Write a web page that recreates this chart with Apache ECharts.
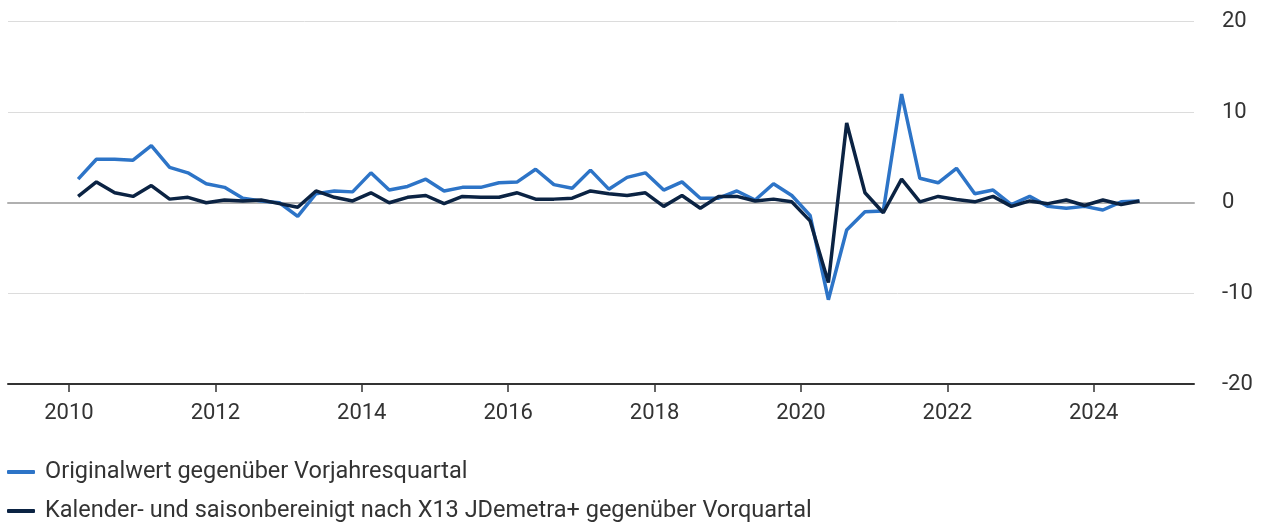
<!DOCTYPE html>
<html lang="de">
<head>
    <meta charset="UTF-8">
    <title>echarts</title>
    <script src="https://cdn.jsdelivr.net/npm/echarts@6/dist/echarts.min.js"></script>
    <style>
        html, body { margin: 0; padding: 0; background: #fff; }
    </style>
</head>
<body>
    <div id="charts1" style="width: 1268px;height:522px;"></div>
    <script type="text/javascript">
        // Quartale 2010 Q1 bis 2024 Q3
        var startYear = 2010;
        var quarterCount = 59;
        var yearTicks = [2010, 2012, 2014, 2016, 2018, 2020, 2022, 2024];

        var seriesNames = [
            'Originalwert gegenüber Vorjahresquartal',
            'Kalender- und saisonbereinigt nach X13 JDemetra+ gegenüber Vorquartal'
        ];

        var vorjahr = [
            2.6, 4.8, 4.8, 4.7, 6.3, 3.9, 3.3, 2.1, 1.7, 0.5, 0.2, 0.0,
            -1.5, 1.0, 1.3, 1.2, 3.3, 1.4, 1.8, 2.6, 1.3, 1.7, 1.7, 2.2,
            2.3, 3.7, 2.0, 1.6, 3.6, 1.5, 2.8, 3.3, 1.4, 2.3, 0.5, 0.5,
            1.3, 0.3, 2.1, 0.8, -1.4, -10.7, -3.0, -1.0, -0.9, 12.0, 2.7, 2.2,
            3.8, 1.0, 1.4, -0.2, 0.7, -0.4, -0.6, -0.4, -0.8, 0.1, 0.2
        ];

        var vorquartal = [
            0.7, 2.3, 1.1, 0.7, 1.9, 0.4, 0.6, 0.0, 0.3, 0.2, 0.3, -0.1,
            -0.5, 1.3, 0.6, 0.2, 1.1, 0.0, 0.6, 0.8, -0.1, 0.7, 0.6, 0.6,
            1.1, 0.4, 0.4, 0.5, 1.3, 1.0, 0.8, 1.1, -0.4, 0.8, -0.6, 0.7,
            0.7, 0.2, 0.4, 0.1, -2.0, -8.8, 8.8, 1.1, -1.1, 2.6, 0.1, 0.7,
            0.35, 0.1, 0.7, -0.4, 0.2, -0.1, 0.3, -0.3, 0.3, -0.2, 0.2
        ];

        // Quartalsmitte als x-Position
        var quarterPos = [];
        for (var i = 0; i < quarterCount; i++) {
            quarterPos.push(startYear + Math.floor(i / 4) + (i % 4) * 0.25 + 0.125);
        }

        function pairs(values) {
            var out = [];
            for (var i = 0; i < values.length; i++) {
                out.push([quarterPos[i], values[i]]);
            }
            return out;
        }

        var myChart = echarts.init(document.getElementById('charts1'));

        var textColor = '#333333';
        var fontFamily = 'Roboto, "Liberation Sans", sans-serif';

        var option = {
            animation: false,
            textStyle: { fontFamily: fontFamily },
            grid: { left: 8, right: 74, top: 21.5, bottom: 138 },
            legend: {
                orient: 'vertical',
                left: 7,
                top: 459,
                padding: 0,
                height: 100,
                itemGap: 13,
                itemWidth: 28,
                itemHeight: 4,
                icon: 'roundRect',
                textStyle: { fontFamily: fontFamily, fontSize: 23.5, color: textColor, lineHeight: 26, padding: [0, 0, 0, 5] },
                data: seriesNames
            },
            xAxis: [{
                type: 'value',
                min: 2009.167,
                max: 2025.37,
                position: 'bottom',
                axisLine: { onZero: false, lineStyle: { color: '#333333', width: 2 } },
                axisTick: { customValues: yearTicks, length: 8, lineStyle: { color: '#333333', width: 1.5 } },
                axisLabel: {
                    customValues: yearTicks,
                    fontFamily: fontFamily,
                    fontSize: 22,
                    color: textColor,
                    margin: 18,
                    formatter: function (v) { return String(v); }
                },
                splitLine: { show: false }
            }, {
                // Nulllinie
                type: 'value',
                min: 2009.167,
                max: 2025.37,
                position: 'bottom',
                axisLine: { onZero: true, lineStyle: { color: '#b0b0b0', width: 2 } },
                axisTick: { show: false },
                axisLabel: { show: false },
                splitLine: { show: false }
            }],
            yAxis: {
                type: 'value',
                position: 'right',
                min: -20,
                max: 20,
                interval: 10,
                axisLine: { show: false },
                axisTick: { show: false },
                axisLabel: { fontFamily: fontFamily, fontSize: 22, color: textColor, margin: 28, align: 'left' },
                splitLine: { lineStyle: { color: '#dcdcdc', width: 1 } }
            },
            series: [{
                name: seriesNames[0],
                type: 'line',
                data: pairs(vorjahr),
                showSymbol: false,
                color: '#2d74c7',
                lineStyle: { width: 3.5, color: '#2d74c7' }
            }, {
                name: seriesNames[1],
                type: 'line',
                data: pairs(vorquartal),
                showSymbol: false,
                color: '#0b2343',
                lineStyle: { width: 3.5, color: '#0b2343' }
            }]
        };

        myChart.setOption(option);
    </script>
</body>
</html>
